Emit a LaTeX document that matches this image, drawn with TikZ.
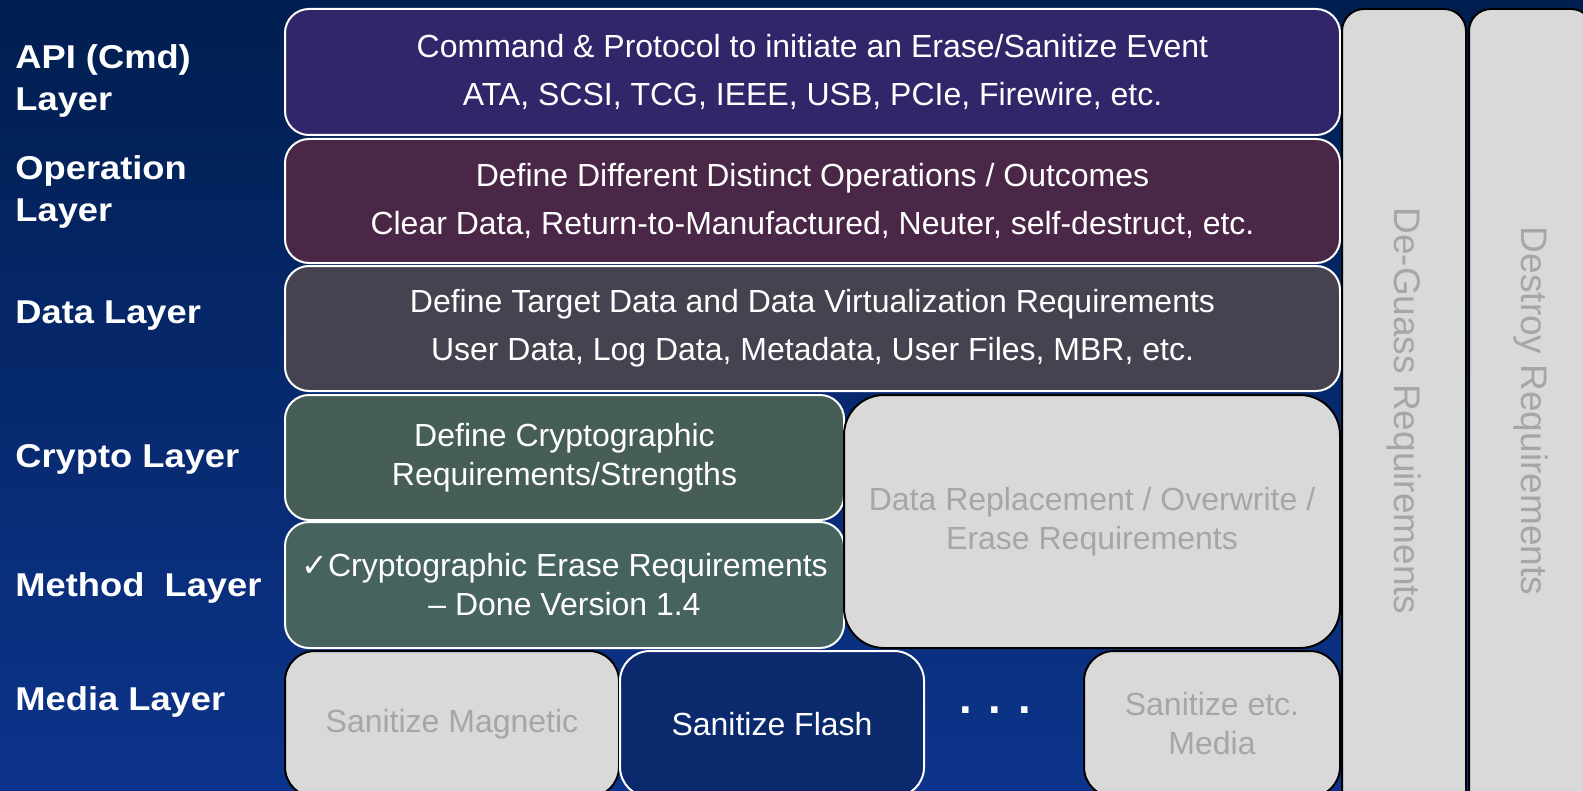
\documentclass[tikz,border=0pt]{standalone}
\usepackage{fontspec}
\setmainfont{Liberation Sans}
\newfontfamily\labelfont[FakeStretch=1.1]{Liberation Sans}
\newfontfamily\symfont{DejaVu Sans}
\usepackage{graphicx}
\definecolor{bgtop}{RGB}{0,30,79}
\definecolor{bgbottom}{RGB}{13,52,140}
\definecolor{apicol}{RGB}{50,38,106}
\definecolor{opercol}{RGB}{74,39,71}
\definecolor{datacol}{RGB}{70,66,79}
\definecolor{cryptocol}{RGB}{70,94,85}
\definecolor{methodcol}{RGB}{71,99,95}
\definecolor{flashcol}{RGB}{11,41,109}
\definecolor{boxgray}{RGB}{217,217,217}
\definecolor{graytext}{RGB}{166,166,166}
\tikzset{
  layerlabel/.style={text=white, font=\labelfont\bfseries\fontsize{16.5}{21}\selectfont, align=left, anchor=west, inner sep=0pt},
  colbox/.style={draw=white, line width=1pt, rounded corners=12pt, text=white, align=center, inner sep=0pt, anchor=north west, font=\fontsize{16}{24}\selectfont},
  tightbox/.style={font=\fontsize{16}{19.5}\selectfont},
  graybox/.style={draw=black, line width=1pt, fill=boxgray, text=graytext, align=center, inner sep=0pt, anchor=north west, font=\fontsize{16}{19.5}\selectfont}
}

\begin{document}
\begin{tikzpicture}[x=0.5pt, y=-0.5pt]
    \useasboundingbox (0,0) rectangle (1583,791);
    \clip (0,0) rectangle (1583,791);
    \shade[top color=bgtop, bottom color=bgbottom] (0,0) rectangle (1583,791);

    \node[layerlabel] (lapi) at (15,81) {API (Cmd)\\Layer};
    \node[layerlabel] (loper) at (15,192) {Operation\\Layer};
    \node[layerlabel] (ldata) at (15,316) {Data Layer};
    \node[layerlabel] (lcrypto) at (15,459) {Crypto Layer};
    \node[layerlabel] (lmethod) at (15,588) {Method\ \ Layer};
    \node[layerlabel] (lmedia) at (15,702) {Media Layer};

    \node[colbox, fill=apicol, minimum width=527.5pt, minimum height=63pt] (api) at (284,8)
        {Command \& Protocol to initiate an Erase/Sanitize Event\\ATA, SCSI, TCG, IEEE, USB, PCIe, Firewire, etc.};
    \node[colbox, fill=opercol, minimum width=527.5pt, minimum height=62pt] (oper) at (284,138)
        {Define Different Distinct Operations / Outcomes\\Clear Data, Return-to-Manufactured, Neuter, self-destruct, etc.};
    \node[colbox, fill=datacol, minimum width=527.5pt, minimum height=62.5pt] (data) at (284,265)
        {Define Target Data and Data Virtualization Requirements\\User Data, Log Data, Metadata, User Files, MBR, etc.};
    \node[colbox, tightbox, fill=cryptocol, minimum width=279.5pt, minimum height=62.5pt] (crypto) at (284,394)
        {Define Cryptographic\\Requirements/Strengths};
    \node[colbox, tightbox, fill=methodcol, minimum width=279.5pt, minimum height=63pt] (method) at (284,521)
        {{\symfont ✓}Cryptographic Erase Requirements\\– Done Version 1.4};
    \node[graybox, rounded corners=20pt, minimum width=248pt, minimum height=126.5pt] (replace) at (843,394)
        {Data Replacement / Overwrite /\\Erase Requirements};

    \node[graybox, rounded corners=15pt, minimum width=167pt, minimum height=73pt] (magnetic) at (284,650)
        {Sanitize Magnetic};
    \node[colbox, tightbox, rounded corners=15pt, fill=flashcol, minimum width=152pt, minimum height=73pt] (flash) at (619,650)
        {Sanitize Flash};
    \node[text=white, inner sep=0pt, font=\bfseries\fontsize{22.75}{23}\selectfont] (dots) at (995,710) {. . .};
    \node[graybox, rounded corners=15pt, minimum width=128pt, minimum height=73pt] (etcmedia) at (1083,650)
        {Sanitize etc.\\Media};

    \node[graybox, rounded corners=11pt, minimum width=62pt, minimum height=402pt, font=\fontsize{18.5}{20}\selectfont] (deguass) at (1341,8)
        {\rotatebox{-90}{De-Guass Requirements}};
    \node[graybox, rounded corners=11pt, minimum width=62pt, minimum height=402pt, font=\fontsize{18.5}{20}\selectfont] (destroy) at (1468,8)
        {\rotatebox{-90}{Destroy Requirements}};
\end{tikzpicture}
\end{document}
